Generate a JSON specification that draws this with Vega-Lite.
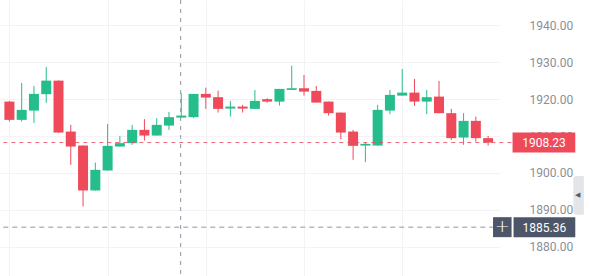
{
  "$schema": "https://vega.github.io/schema/vega-lite/v6.json",
  "width": 500,
  "height": 276,
  "autosize": {"type": "none"},
  "padding": {"left": 0, "top": 0, "right": 90, "bottom": 0},
  "background": "#ffffff",
  "config": {"view": {"stroke": null}, "font": "Roboto"},
  "datasets": {
    "candles": [
      {"i": 1, "open": 1919.30, "high": 1919.50, "low": 1913.90, "close": 1914.36},
      {"i": 2, "open": 1914.36, "high": 1924.35, "low": 1913.90, "close": 1917.06},
      {"i": 3, "open": 1916.87, "high": 1923.54, "low": 1913.55, "close": 1921.38},
      {"i": 4, "open": 1921.30, "high": 1928.66, "low": 1918.95, "close": 1924.97},
      {"i": 5, "open": 1924.97, "high": 1925.00, "low": 1910.90, "close": 1910.93},
      {"i": 6, "open": 1911.20, "high": 1913.01, "low": 1902.21, "close": 1907.15},
      {"i": 7, "open": 1907.42, "high": 1907.50, "low": 1890.96, "close": 1895.28},
      {"i": 8, "open": 1895.28, "high": 1902.83, "low": 1895.28, "close": 1900.86},
      {"i": 9, "open": 1900.67, "high": 1913.28, "low": 1900.67, "close": 1907.34},
      {"i": 10, "open": 1907.15, "high": 1910.04, "low": 1907.15, "close": 1908.07},
      {"i": 11, "open": 1908.07, "high": 1913.01, "low": 1907.60, "close": 1911.66},
      {"i": 12, "open": 1911.66, "high": 1914.55, "low": 1908.77, "close": 1910.12},
      {"i": 13, "open": 1910.12, "high": 1914.82, "low": 1910.12, "close": 1913.01},
      {"i": 14, "open": 1912.82, "high": 1916.52, "low": 1911.66, "close": 1915.09},
      {"i": 15, "open": 1914.98, "high": 1921.57, "low": 1914.98, "close": 1915.52},
      {"i": 16, "open": 1915.10, "high": 1921.38, "low": 1914.90, "close": 1921.38},
      {"i": 17, "open": 1921.38, "high": 1923.08, "low": 1917.33, "close": 1920.38},
      {"i": 18, "open": 1920.49, "high": 1922.27, "low": 1916.33, "close": 1917.33},
      {"i": 19, "open": 1917.41, "high": 1919.49, "low": 1915.25, "close": 1917.95},
      {"i": 20, "open": 1917.95, "high": 1918.41, "low": 1916.33, "close": 1917.41},
      {"i": 21, "open": 1917.33, "high": 1922.46, "low": 1917.33, "close": 1919.49},
      {"i": 22, "open": 1919.95, "high": 1920.22, "low": 1919.03, "close": 1919.30},
      {"i": 23, "open": 1919.30, "high": 1922.73, "low": 1918.22, "close": 1922.73},
      {"i": 24, "open": 1922.46, "high": 1929.02, "low": 1922.46, "close": 1922.91},
      {"i": 25, "open": 1922.91, "high": 1926.50, "low": 1920.92, "close": 1922.00},
      {"i": 26, "open": 1922.19, "high": 1923.54, "low": 1919.03, "close": 1919.03},
      {"i": 27, "open": 1919.30, "high": 1919.30, "low": 1915.52, "close": 1916.17},
      {"i": 28, "open": 1916.33, "high": 1916.33, "low": 1909.15, "close": 1910.93},
      {"i": 29, "open": 1911.20, "high": 1911.66, "low": 1903.56, "close": 1907.34},
      {"i": 30, "open": 1907.42, "high": 1908.34, "low": 1902.94, "close": 1907.88},
      {"i": 31, "open": 1907.42, "high": 1918.41, "low": 1907.42, "close": 1917.06},
      {"i": 32, "open": 1916.87, "high": 1922.46, "low": 1915.90, "close": 1921.11},
      {"i": 33, "open": 1920.92, "high": 1928.12, "low": 1920.92, "close": 1921.73},
      {"i": 34, "open": 1921.73, "high": 1925.43, "low": 1918.14, "close": 1919.30},
      {"i": 35, "open": 1919.30, "high": 1922.46, "low": 1915.90, "close": 1920.49},
      {"i": 36, "open": 1920.65, "high": 1924.89, "low": 1916.17, "close": 1916.17},
      {"i": 37, "open": 1916.17, "high": 1917.33, "low": 1908.96, "close": 1909.42},
      {"i": 38, "open": 1909.58, "high": 1916.17, "low": 1907.61, "close": 1914.09},
      {"i": 39, "open": 1914.09, "high": 1915.25, "low": 1908.50, "close": 1909.42},
      {"i": 40, "open": 1909.42, "high": 1910.04, "low": 1907.42, "close": 1908.23}
    ],
    "last": [{"price": 1908.23, "label": "1908.23"}],
    "cursor": [{"i": 14.95, "price": 1885.36, "label": "1885.36"}]
  },
  "layer": [
    {
      "data": {"name": "candles"},
      "mark": {"type": "rule", "strokeWidth": 1},
      "encoding": {
        "x": {
          "field": "i", "type": "quantitative",
          "scale": {"domain": [0.641, 40.56], "nice": false, "zero": false},
          "axis": {"grid": true, "gridColor": "#f3f3f5", "labels": false, "ticks": false, "domain": false, "values": [1, 9, 17, 25, 33], "title": null}
        },
        "y": {
          "field": "low", "type": "quantitative",
          "scale": {"domain": [1872.16, 1946.76], "nice": false, "zero": false},
          "axis": {
            "orient": "right", "values": [1880, 1890, 1900, 1910, 1920, 1930, 1940], "format": ".2f",
            "labelAlign": "left", "labelPadding": 29, "tickSize": 0, "domain": false,
            "grid": true, "gridColor": "#f3f3f5", "labelColor": "#8a8f98", "labelFont": "Roboto",
            "labelFontSize": 12, "title": null
          }
        },
        "y2": {"field": "high"},
        "color": {"condition": {"test": "datum.close >= datum.open", "value": "#26bd8c"}, "value": "#ee4a5a"}
      }
    },
    {
      "data": {"name": "candles"},
      "mark": {"type": "bar", "size": 10},
      "encoding": {
        "x": {"field": "i", "type": "quantitative"},
        "y": {"field": "open", "type": "quantitative"},
        "y2": {"field": "close"},
        "color": {"condition": {"test": "datum.close >= datum.open", "value": "#26bd8c"}, "value": "#ee4a5a"}
      }
    },
    {
      "data": {"name": "last"},
      "mark": {"type": "rule", "color": "#e8505f", "strokeDash": [4, 4], "strokeWidth": 1, "opacity": 0.85},
      "encoding": {
        "x": {"datum": 0.5, "type": "quantitative"},
        "x2": {"datum": 41.99},
        "y": {"field": "price", "type": "quantitative"}
      }
    },
    {
      "data": {"name": "cursor"},
      "mark": {"type": "rule", "color": "#8f96a3", "strokeDash": [4, 5], "strokeWidth": 1},
      "encoding": {
        "x": {"field": "i", "type": "quantitative"}
      }
    },
    {
      "data": {"name": "cursor"},
      "mark": {"type": "rule", "color": "#8f96a3", "strokeDash": [5, 4], "strokeWidth": 1},
      "encoding": {
        "x": {"datum": 0.5, "type": "quantitative"},
        "x2": {"datum": 40.4},
        "y": {"field": "price", "type": "quantitative"}
      }
    },
    {
      "data": {"name": "last"},
      "mark": {"type": "rule", "color": "#ee4a5a", "strokeWidth": 20, "strokeCap": "butt"},
      "encoding": {
        "x": {"datum": 41.99, "type": "quantitative"},
        "x2": {"datum": 47.1},
        "y": {"field": "price", "type": "quantitative"}
      }
    },
    {
      "data": {"name": "last"},
      "mark": {"type": "text", "color": "#ffffff", "fontSize": 12, "font": "Roboto", "align": "center", "baseline": "middle", "dy": 0.5},
      "encoding": {
        "x": {"datum": 44.55, "type": "quantitative"},
        "y": {"field": "price", "type": "quantitative"},
        "text": {"field": "label"}
      }
    },
    {
      "data": {"name": "cursor"},
      "mark": {"type": "rule", "color": "#4d5668", "strokeWidth": 20, "strokeCap": "butt"},
      "encoding": {
        "x": {"datum": 42.07, "type": "quantitative"},
        "x2": {"datum": 47.1},
        "y": {"field": "price", "type": "quantitative"}
      }
    },
    {
      "data": {"name": "cursor"},
      "mark": {"type": "rule", "color": "#4d5668", "strokeWidth": 20, "strokeCap": "butt"},
      "encoding": {
        "x": {"datum": 40.4, "type": "quantitative"},
        "x2": {"datum": 41.91},
        "y": {"field": "price", "type": "quantitative"}
      }
    },
    {
      "data": {"name": "cursor"},
      "mark": {"type": "text", "color": "#ffffff", "fontSize": 12, "font": "Roboto", "align": "center", "baseline": "middle", "dy": 0.5},
      "encoding": {
        "x": {"datum": 44.58, "type": "quantitative"},
        "y": {"field": "price", "type": "quantitative"},
        "text": {"field": "label"}
      }
    },
    {
      "data": {"name": "cursor"},
      "mark": {"type": "text", "color": "#ffffff", "fontSize": 18, "fontWeight": 300, "font": "DejaVu Sans", "align": "center", "baseline": "middle", "dy": 0, "text": "+"},
      "encoding": {
        "x": {"datum": 41.16, "type": "quantitative"},
        "y": {"field": "price", "type": "quantitative"}
      }
    },
    {
      "data": {"values": [{"top": 1899.2, "bottom": 1888.7, "mid": 1894.0}]},
      "mark": {"type": "rect", "color": "#e4e5e8", "cornerRadiusTopLeft": 3, "cornerRadiusBottomLeft": 3},
      "encoding": {
        "x": {"datum": 46.94, "type": "quantitative"},
        "x2": {"datum": 47.8},
        "y": {"field": "top", "type": "quantitative"},
        "y2": {"field": "bottom"}
      }
    },
    {
      "data": {"values": [{"mid": 1894.0}]},
      "mark": {"type": "text", "color": "#555b66", "fontSize": 7, "font": "DejaVu Sans", "align": "center", "baseline": "middle", "text": "◀"},
      "encoding": {
        "x": {"datum": 47.3, "type": "quantitative"},
        "y": {"field": "mid", "type": "quantitative"}
      }
    }
  ]
}
